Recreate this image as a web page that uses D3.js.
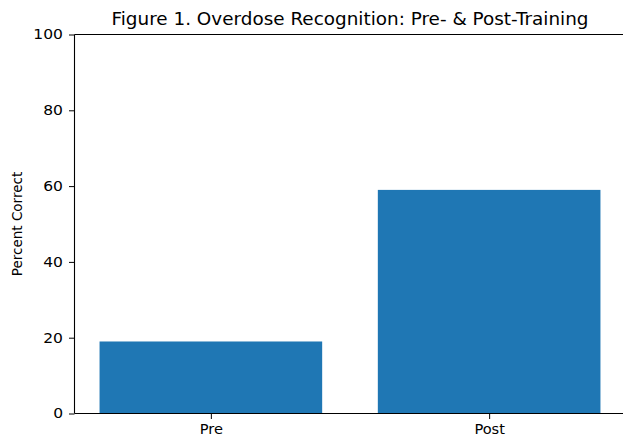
<!DOCTYPE html>
<html><head><meta charset="utf-8">
<script src="https://cdn.jsdelivr.net/npm/d3@7"></script>
<style>
html,body{margin:0;padding:0;background:#fff;overflow:hidden;}
svg{display:block;}
svg text{font-family:"DejaVu Sans",sans-serif;fill:#000;}
</style></head>
<body><svg id="c" width="623" height="437"></svg>
<script>
const categories = ["Pre", "Post"];
const values = [19, 59];
const yTicks = [0, 20, 40, 60, 80, 100];
const title = "Figure 1. Overdose Recognition: Pre- & Post-Training";
const yLabel = "Percent Correct";

(function () {
const svg = d3.select("#c");
const mL = 74.5, mR = 625.5, mT = 34.5, mB = 413.5;
const x = d3.scaleLinear().domain([-0.49, categories.length - 1 + 0.49]).range([mL, mR]);
const y = d3.scaleLinear().domain([0, 100]).range([mB, mT]);
const barW = 0.8;

svg.selectAll("rect.bar").data(values).join("rect")
  .attr("class", "bar")
  .attr("x", (d, i) => x(i - barW / 2))
  .attr("width", (d, i) => x(i + barW / 2) - x(i - barW / 2))
  .attr("y", d => y(d))
  .attr("height", d => y(0) - y(d))
  .attr("fill", "#1f77b4");

const yAxis = d3.axisLeft(y).tickValues(yTicks).tickSize(5.5).tickPadding(6).tickFormat(d3.format("d"));
const gy = svg.append("g").attr("transform", `translate(${mL},0)`).call(yAxis);
const xAxis = d3.axisBottom(x).tickValues(d3.range(categories.length)).tickSize(5.5).tickPadding(5).tickFormat(i => categories[i]);
const gx = svg.append("g").attr("transform", `translate(0,${mB})`).call(xAxis);
[gy, gx].forEach(g => {
  g.select(".domain").remove();
  g.selectAll("text").attr("font-size", "13.5px").attr("font-family", "DejaVu Sans, sans-serif").attr("fill", "#000");
  g.selectAll("line").attr("stroke", "#000").attr("stroke-width", 1);
});
// slight horizontal widening of tick labels to match reference
gy.selectAll("text").each(function () {
  const L = this.getComputedTextLength();
  d3.select(this).attr("textLength", L * 1.15).attr("lengthAdjust", "spacingAndGlyphs");
});
gx.selectAll("text").each(function () {
  const L = this.getComputedTextLength();
  d3.select(this).attr("textLength", L * 1.08).attr("lengthAdjust", "spacingAndGlyphs");
});

const sp = svg.append("g").attr("stroke", "#000").attr("stroke-width", 1.1).attr("fill", "none");
sp.append("line").attr("x1", mL).attr("x2", mL).attr("y1", mT).attr("y2", mB);
sp.append("line").attr("x1", mL).attr("x2", mR).attr("y1", mB).attr("y2", mB);
sp.append("line").attr("x1", mL).attr("x2", mR).attr("y1", mT).attr("y2", mT);

svg.append("text").attr("x", (mL + mR) / 2).attr("y", 25)
  .attr("text-anchor", "middle").attr("font-size", "17px")
  .attr("textLength", 477).attr("lengthAdjust", "spacingAndGlyphs").text(title);
svg.append("text").attr("transform", `translate(22,${(mT + mB) / 2}) rotate(-90)`)
  .attr("text-anchor", "middle").attr("font-size", "13.5px").text(yLabel);
})();
</script></body></html>
